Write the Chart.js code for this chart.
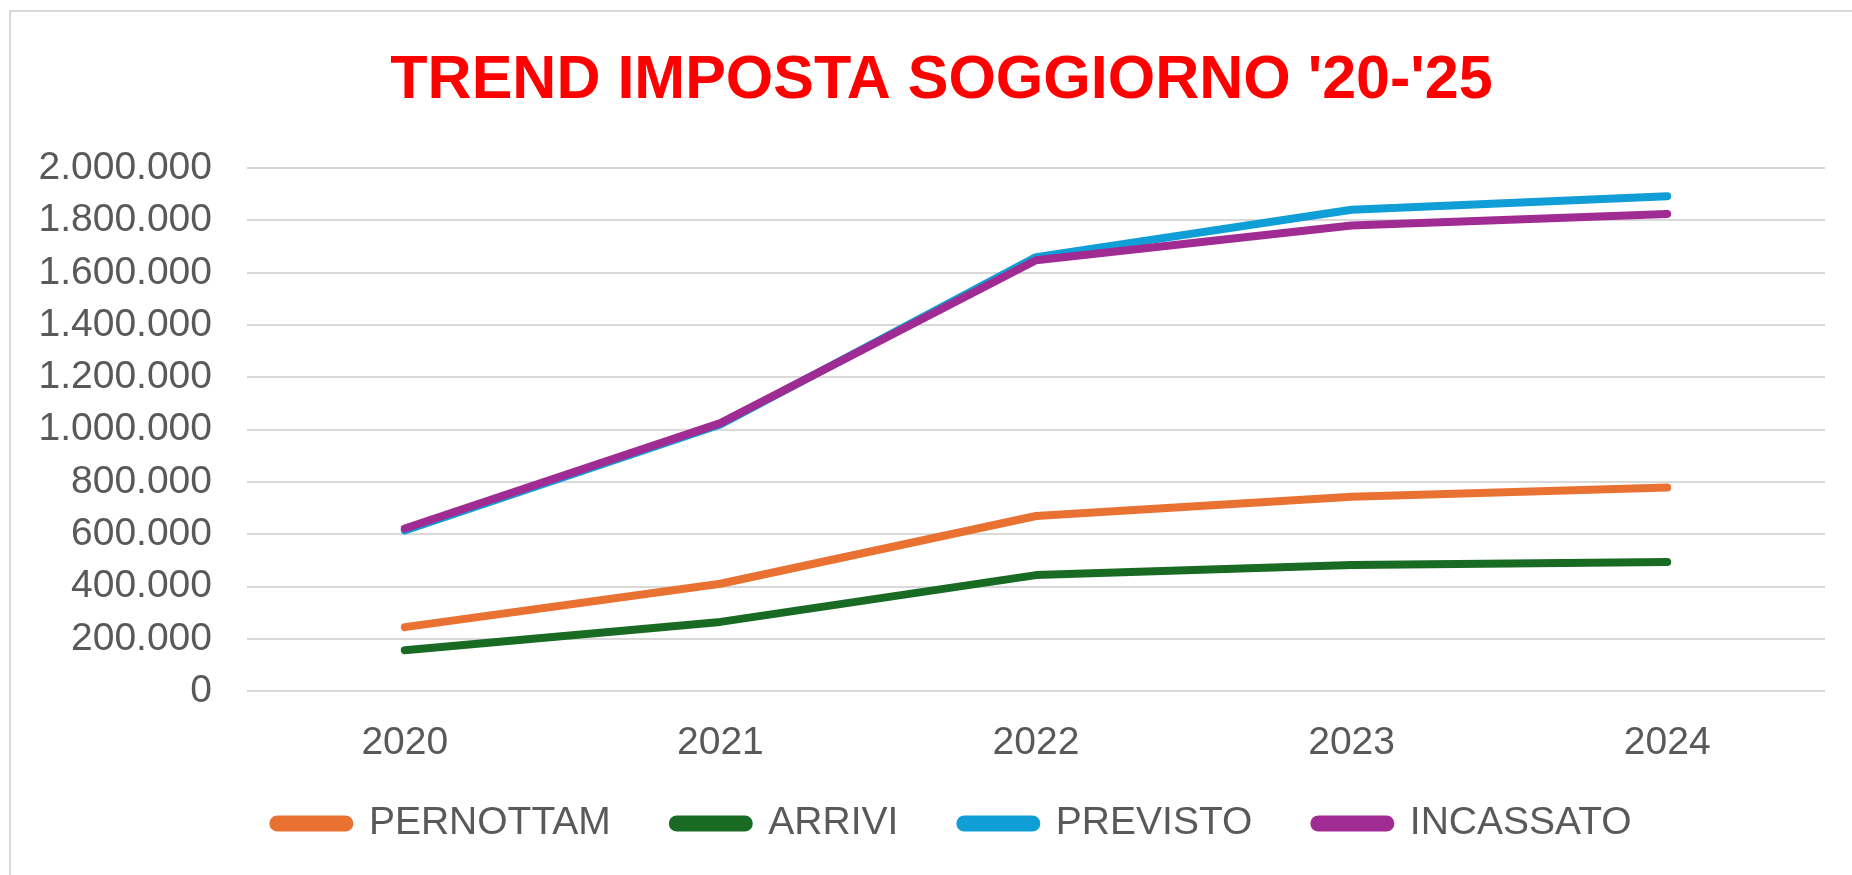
<!DOCTYPE html>
<html>
<head>
<meta charset="utf-8">
<script src="https://cdn.jsdelivr.net/npm/chart.js@4/dist/chart.umd.min.js"></script>
<style>
  html, body { margin: 0; padding: 0; background: #ffffff; overflow: hidden; width: 1852px; height: 875px; }
  #frame { position: absolute; left: 9px; top: 10px; width: 1900px; height: 900px; border-left: 2px solid #d9d9d9; border-top: 2px solid #d9d9d9; box-sizing: border-box; }
  #wrap { position: absolute; left: 10px; top: 11px; }
</style>
</head>
<body>
<div id="frame"></div>
<div id="wrap"><canvas id="c" width="1870" height="900"></canvas></div>
<script>
const categories = ['2020', '2021', '2022', '2023', '2024'];
const pernottam = [245000, 411000, 670000, 744000, 779000];
const arrivi    = [157000, 265000, 444000, 483000, 494000];
const previsto  = [615000, 1020000, 1660000, 1841000, 1893000];
const incassato = [622000, 1025000, 1648000, 1781000, 1825000];
const seriesNames = ['PERNOTTAM', 'ARRIVI', 'PREVISTO', 'INCASSATO'];
const titleText = "TREND IMPOSTA SOGGIORNO '20-'25";

const colors = ['#E97132', '#196B24', '#0F9ED5', '#A02B93'];
const values = [pernottam, arrivi, previsto, incassato];

function fmt(v) {
  return String(Math.round(v)).replace(/\B(?=(\d{3})+(?!\d))/g, '.');
}

const FONT = "'Liberation Sans', Arial, sans-serif";

// shift title / legend boxes so they sit centred like the reference
const nudge = {
  id: 'nudge',
  afterLayout(chart) {
    const t = chart.titleBlock;
    if (t) { t.left += 24; t.right += 24; }
    const l = chart.legend;
    if (l) { l.left += 35; l.right += 35; l.top -= 54; l.bottom -= 54; }
  }
};

new Chart(document.getElementById('c'), {
  type: 'line',
  plugins: [nudge],
  data: {
    labels: categories,
    datasets: seriesNames.map((n, i) => ({
      label: n,
      data: values[i],
      borderColor: colors[i],
      backgroundColor: colors[i],
      borderWidth: 8,
      borderCapStyle: 'round',
      borderJoinStyle: 'round',
      pointRadius: 0,
      pointHoverRadius: 0,
      tension: 0,
      fill: false,
      order: seriesNames.length - 1 - i
    }))
  },
  options: {
    responsive: false,
    animation: false,
    devicePixelRatio: 1,
    layout: { padding: { left: 0, right: 55, top: 0, bottom: 4 } },
    plugins: {
      title: {
        display: true,
        text: titleText,
        color: '#FF0000',
        font: { family: FONT, size: 61, weight: 'bold' },
        padding: { top: 34, bottom: 50 }
      },
      legend: {
        position: 'bottom',
        labels: {
          color: '#595959',
          font: { family: FONT, size: 39 },
          boxWidth: 76,
          boxHeight: 8,
          useBorderRadius: true,
          borderRadius: 4,
          padding: 62,
          sort: (a, b) => a.datasetIndex - b.datasetIndex
        }
      },
      tooltip: { enabled: false }
    },
    scales: {
      x: {
        offset: true,
        grid: { display: false, drawTicks: false },
        border: { display: false },
        ticks: { color: '#595959', font: { family: FONT, size: 39 }, padding: 29, maxRotation: 0 }
      },
      y: {
        min: 0,
        max: 2000000,
        grid: { color: '#d9d9d9', lineWidth: 2, drawTicks: false },
        border: { display: false },
        ticks: {
          stepSize: 200000,
          autoSkip: false,
          color: '#595959',
          font: { family: FONT, size: 39 },
          padding: 35,
          callback: (v) => fmt(v)
        },
        afterFit: (s) => { s.width = 237; }
      }
    }
  }
});
</script>
</body>
</html>
